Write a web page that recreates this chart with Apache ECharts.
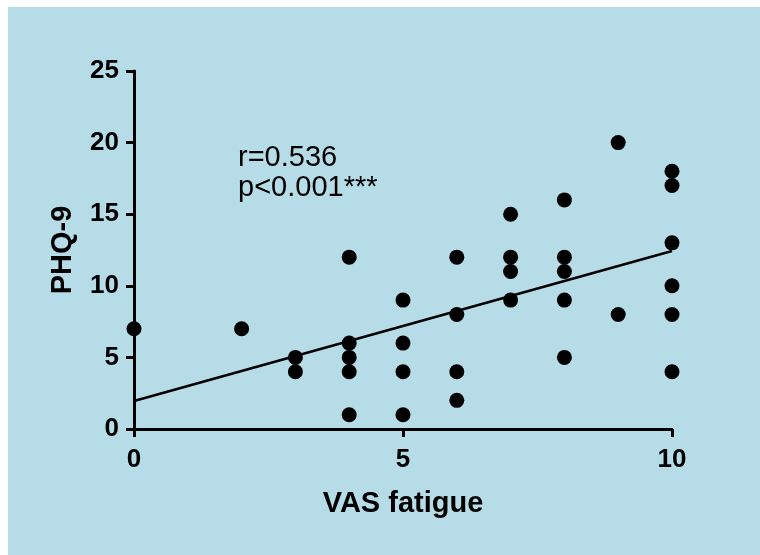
<!DOCTYPE html>
<html>
<head>
<meta charset="utf-8">
<script src="https://cdn.jsdelivr.net/npm/echarts@6/dist/echarts.min.js"></script>
<style>
  html, body { margin: 0; padding: 0; background: #ffffff; }
  #chart { position: absolute; left: 8px; top: 7px; width: 752px; height: 548px; background: #b6dde7; }
</style>
</head>
<body>
<div id="chart"></div>
<script>
// VAS fatigue score (x) against PHQ-9 score (y) per participant
const vasFatigue = [0, 2, 3, 3, 4, 4, 4, 4, 4, 5, 5, 5, 5, 6, 6, 6, 6, 7, 7, 7, 7,
                    8, 8, 8, 8, 8, 9, 9, 10, 10, 10, 10, 10, 10];
const phq9 =       [7, 7, 5, 4, 12, 6, 5, 4, 1, 9, 6, 4, 1, 12, 8, 4, 2, 15, 12, 11, 9,
                    16, 12, 11, 9, 5, 20, 8, 18, 17, 13, 10, 8, 4];

// Linear fit line end points (x, y)
const fitX = [0, 10];
const fitY = [1.96, 12.43];

// Axis ticks
const xTicks = [0, 5, 10];
const yTicks = [0, 5, 10, 15, 20, 25];

const statLines = ['r=0.536', 'p<0.001***'];

const points = vasFatigue.map((x, i) => [x, phq9[i]]);
const fitLine = fitX.map((x, i) => [x, fitY[i]]);

const chart = echarts.init(document.getElementById('chart'), null, { renderer: 'canvas' });

const axisCommon = {
  axisTick: { show: true, inside: false, length: 8, lineStyle: { color: '#000', width: 3 } },
  splitLine: { show: false },
  nameTextStyle: { fontFamily: 'Liberation Sans', fontWeight: 'bold', fontSize: 29, color: '#000' },
  axisLabel: { fontFamily: 'Liberation Sans', fontWeight: 'bold', fontSize: 26, color: '#000' }
};

chart.setOption({
  animation: false,
  backgroundColor: 'transparent',
  grid: { left: 126, right: 88, top: 64, bottom: 126 },
  xAxis: Object.assign({}, axisCommon, {
    type: 'value', min: xTicks[0], max: xTicks[xTicks.length - 1], interval: xTicks[1] - xTicks[0],
    name: 'VAS fatigue', nameLocation: 'middle', nameGap: 60,
    axisLabel: Object.assign({}, axisCommon.axisLabel, { margin: 18 }),
    axisLine: { show: true, onZero: false, lineStyle: { color: '#000', width: 3 } }
  }),
  yAxis: Object.assign({}, axisCommon, {
    type: 'value', min: yTicks[0], max: yTicks[yTicks.length - 1], interval: yTicks[1] - yTicks[0],
    name: 'PHQ-9', nameLocation: 'middle', nameGap: 57,
    axisLabel: Object.assign({}, axisCommon.axisLabel, { margin: 15 }),
    axisLine: { show: true, onZero: false, lineStyle: { color: '#000', width: 3 } }
  }),
  graphic: [{
    type: 'text',
    left: 230, top: 136,
    style: {
      text: statLines.join('\n'),
      fontFamily: 'Liberation Sans',
      fontSize: 29,
      lineHeight: 30,
      fill: '#000'
    }
  }],
  series: [
    {
      type: 'line',
      data: fitLine,
      symbol: 'none',
      lineStyle: { color: '#000', width: 2.5 },
      z: 2
    },
    {
      type: 'scatter',
      data: points,
      symbol: 'circle',
      symbolSize: 15,
      itemStyle: { color: '#000', opacity: 1 },
      z: 3
    }
  ]
});
</script>
</body>
</html>
